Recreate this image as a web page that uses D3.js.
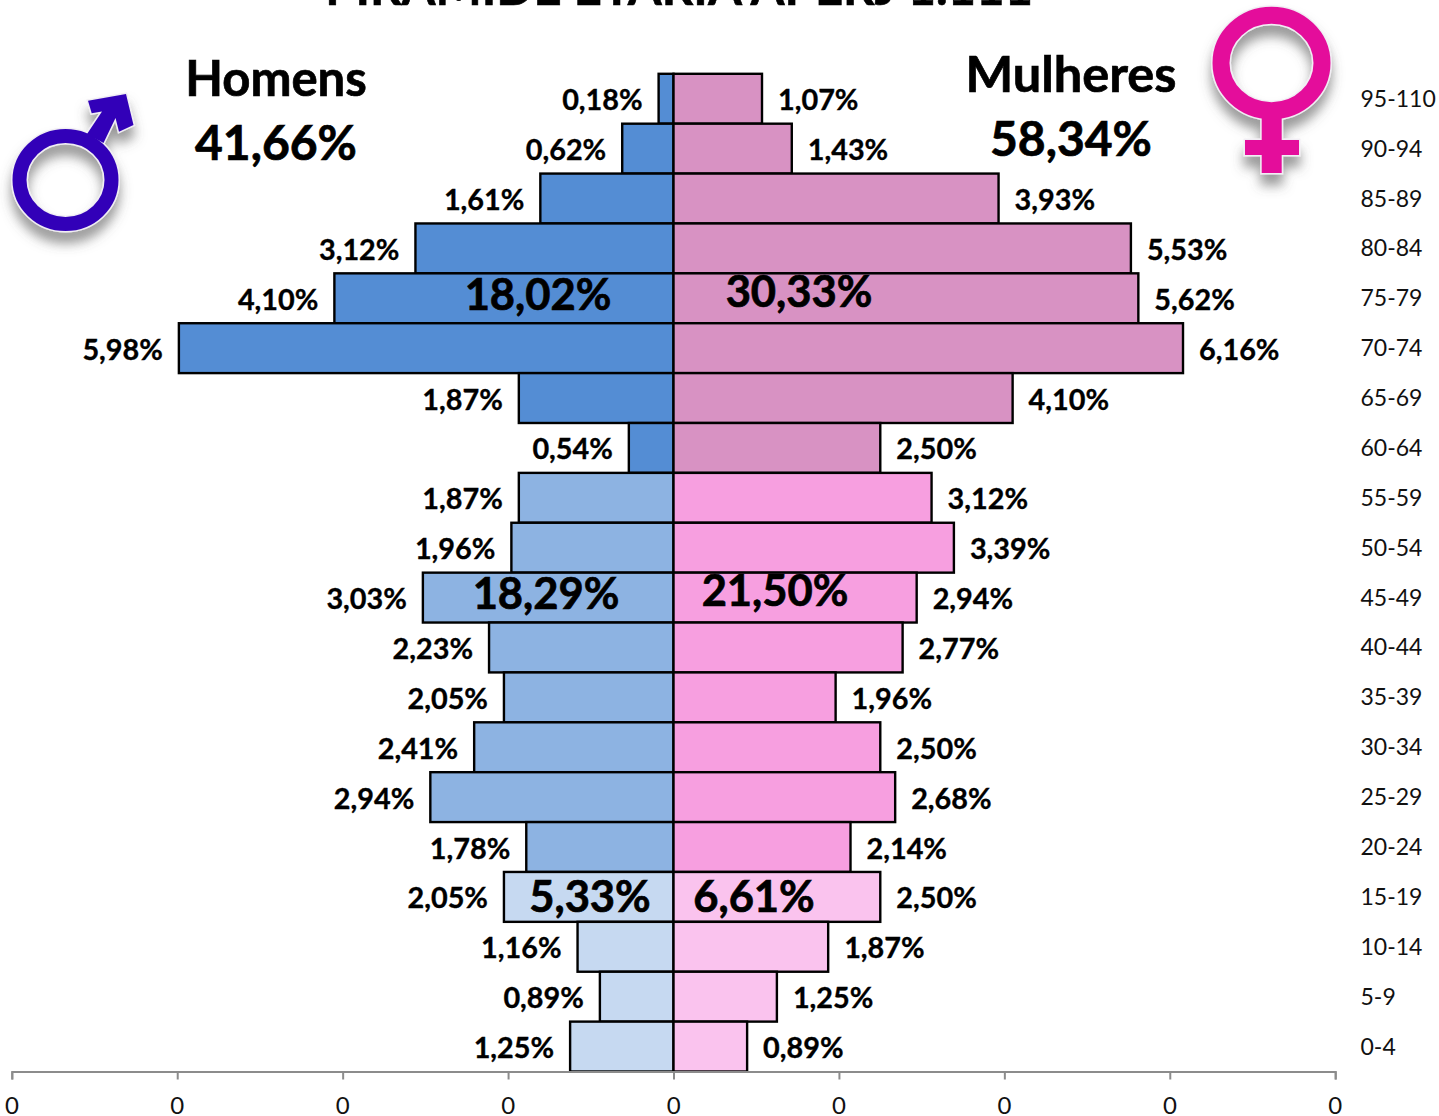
<!DOCTYPE html>
<html><head><meta charset="utf-8">
<script src="https://cdnjs.cloudflare.com/ajax/libs/d3/7.8.5/d3.min.js"></script>
<style>html,body{margin:0;padding:0;background:#fff}svg{display:block}text{font-family:Lato,Carlito,sans-serif}</style>
</head><body><div id="c"></div>
<script>
const ageGroups=["95-110","90-94","85-89","80-84","75-79","70-74","65-69","60-64","55-59","50-54","45-49","40-44","35-39","30-34","25-29","20-24","15-19","10-14","5-9","0-4"];
const men=[0.18,0.62,1.61,3.12,4.10,5.98,1.87,0.54,1.87,1.96,3.03,2.23,2.05,2.41,2.94,1.78,2.05,1.16,0.89,1.25];
const women=[1.07,1.43,3.93,5.53,5.62,6.16,4.10,2.50,3.12,3.39,2.94,2.77,1.96,2.50,2.68,2.14,2.50,1.87,1.25,0.89];
const menColors=["#548dd4","#8db3e2","#c6d9f1"];
const womenColors=["#d892c3","#f79fe0","#fac3ee"];
const bandOf=[0,0,0,0,0,0,0,0,1,1,1,1,1,1,1,1,2,2,2,2];
const xTicks=[-8,-6,-4,-2,0,2,4,6,8];
const W=1439,H=1116;
const svg=d3.select("#c").append("svg").attr("width",W).attr("height",H);
const x=d3.scaleLinear().domain([-8,8]).range([11.8,1335.2]);
const y=d3.scaleBand().domain(ageGroups).range([73.8,1071.5]);
const fmt=v=>v.toFixed(2).replace(".",",")+"%";

const defs=svg.append("defs");
const f=defs.append("filter").attr("id","sh").attr("x","-30%").attr("y","-30%").attr("width","170%").attr("height","170%");
f.append("feDropShadow").attr("dx",0).attr("dy",11).attr("stdDeviation",6).attr("flood-color","#555").attr("flood-opacity",.6);

// title (cut by the top edge in the reference)
svg.append("text").attr("x",679).attr("y",5).attr("text-anchor","middle").attr("font-size",49).attr("font-weight",700).attr("stroke","#000").attr("stroke-width",.6).text("PIRÂMIDE ETÁRIA APERJ 1.111");

// bars
const draw=(vals,cols,sign)=>svg.append("g").selectAll("rect").data(vals).join("rect")
  .attr("x",d=>sign<0?x(-d):x(0)).attr("width",d=>Math.abs(x(d)-x(0)))
  .attr("y",(d,i)=>y(ageGroups[i])).attr("height",y.bandwidth())
  .attr("fill",(d,i)=>cols[bandOf[i]]).attr("stroke","#000").attr("stroke-width",2.4);
draw(men,menColors,-1);draw(women,womenColors,1);

// value labels
const lab=(vals,sign)=>svg.append("g").selectAll("text").data(vals).join("text")
  .attr("x",d=>x(sign*d)+sign*16).attr("y",(d,i)=>y(ageGroups[i])+y.bandwidth()/2+11.5)
  .attr("text-anchor",sign<0?"end":"start").attr("font-size",28.8).attr("font-weight",700)
  .attr("stroke","#000").attr("stroke-width",.35).text(fmt);
lab(men,-1);lab(women,1);

// age labels
svg.append("g").selectAll("text").data(ageGroups).join("text").attr("x",1360.5)
  .attr("y",d=>y(d)+y.bandwidth()/2+8).attr("font-size",23).attr("fill","#111").text(d=>d);

// axis
const ax=svg.append("g").attr("transform","translate(0,1071.5)")
  .call(d3.axisBottom(x).tickValues(xTicks).tickSize(8).tickPadding(17.5).tickFormat(()=>"0"));
ax.selectAll("path,line").attr("stroke","#8c8c8c").attr("stroke-width",2);
ax.selectAll("text").attr("font-size",24).attr("fill","#111").attr("dx",-.4).style("font-family","Lato,sans-serif");

// summary text
const big=[["Homens",276,96,49],["41,66%",276,160,48],["Mulheres",1071,92,50.5],["58,34%",1071,156,48],
 ["18,02%",538,310,43.5],["30,33%",799,307,43.5],["18,29%",546,609,43.5],["21,50%",775,606,43.5],["5,33%",590,912,43.5],["6,61%",754,912,43.5]];
svg.append("g").selectAll("text").data(big).join("text").attr("x",d=>d[1]).attr("y",d=>d[2]).attr("font-size",d=>d[3])
  .attr("text-anchor","middle").attr("font-weight",700).attr("stroke","#000").attr("stroke-width",.7).text(d=>d[0]);

// gender symbols
const mc="#3305b8", wc="#e4109b", halo="#f1eef4";
const m=svg.append("g").attr("filter","url(#sh)");
const mArrow="M88 100.7L126 94L133.5 125L119 131.7L115.5 118L103.5 143L87 134L102 111.5L91.7 113.3Z";
m.append("path").attr("d",mArrow).attr("fill",mc).attr("stroke",halo).attr("stroke-width",3);
m.append("ellipse").attr("cx",65.5).attr("cy",180).attr("rx",46).attr("ry",44).attr("fill","none").attr("stroke",halo).attr("stroke-width",17);
m.append("ellipse").attr("cx",65.5).attr("cy",180).attr("rx",46).attr("ry",44).attr("fill","none").attr("stroke",mc).attr("stroke-width",14);
m.append("path").attr("d",mArrow).attr("fill",mc);
const w=svg.append("g").attr("filter","url(#sh)");
const wCross="M1261.7 112H1281.7V140H1299V155H1281.7V173H1261.7V155H1245V140H1261.7Z";
w.append("path").attr("d",wCross).attr("fill",wc).attr("stroke",halo).attr("stroke-width",3);
w.append("ellipse").attr("cx",1271.5).attr("cy",63).attr("rx",50.5).attr("ry",47.7).attr("fill","none").attr("stroke",halo).attr("stroke-width",20);
w.append("ellipse").attr("cx",1271.5).attr("cy",63).attr("rx",50.5).attr("ry",47.7).attr("fill","none").attr("stroke",wc).attr("stroke-width",17);
w.append("path").attr("d",wCross).attr("fill",wc);
</script></body></html>
